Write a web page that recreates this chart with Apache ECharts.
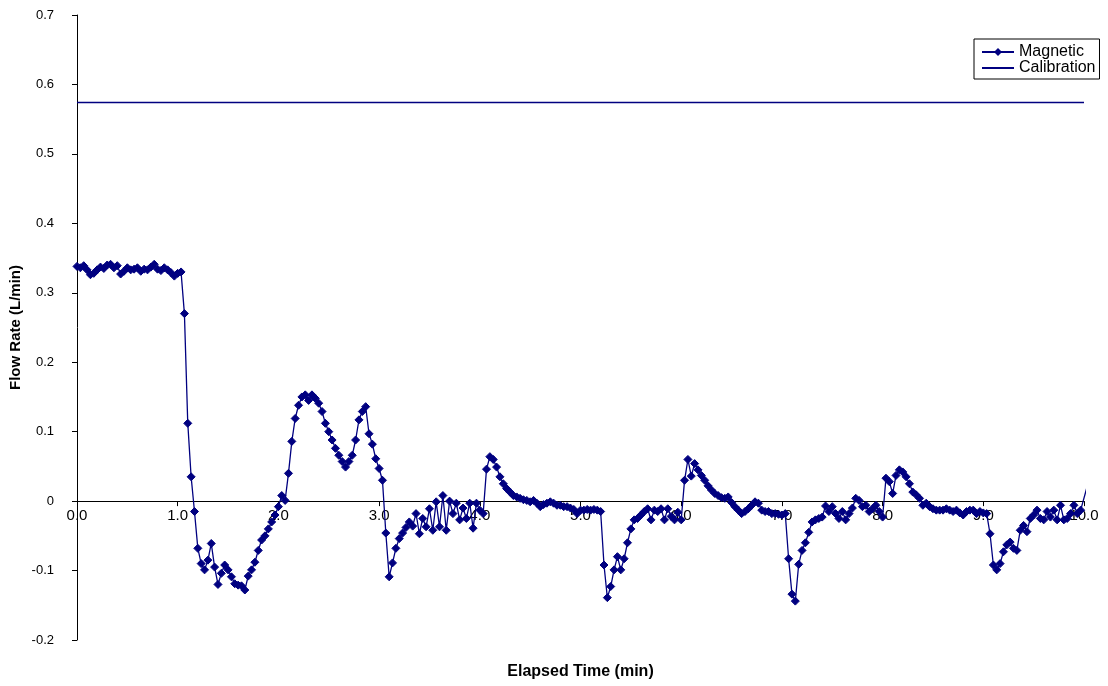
<!DOCTYPE html>
<html>
<head>
<meta charset="utf-8">
<script src="https://cdn.jsdelivr.net/npm/echarts@6/dist/echarts.min.js"></script>
<style>
html,body{margin:0;padding:0;background:#ffffff;}
#chart{width:1108px;height:686px;}
</style>
</head>
<body>
<div id="chart"></div>
<script>
// Elapsed time of each Magnetic reading, in seconds
const timeSeconds = [
0,2,4,6,8,10,12,14,16,18,20,22,24,26,28,30,32,34,36,38,40,42,44,46,48,50,52,54,56,58,
60,62,64,66,68,70,72,74,76,78,80,82,84,86,88,90,92,94,96,98,100,102,104,106,108,110,112,114,116,118,
120,122,124,126,128,130,132,134,136,138,140,142,144,146,148,150,152,154,156,158,160,162,164,166,168,170,172,174,176,178,
180,182,184,186,188,190,192,194,196,198,200,202,204,206,208,210,212,214,216,218,220,222,224,226,228,230,232,234,236,238,
240,242,244,246,248,250,252,254,256,258,260,262,264,266,268,270,272,274,276,278,280,282,284,286,288,290,292,294,296,298,
300,302,304,306,308,310,312,314,316,318,320,322,324,326,328,330,332,334,336,338,340,342,344,346,348,350,352,354,356,358,
360,362,364,366,368,370,372,374,376,378,380,382,384,386,388,390,392,394,396,398,400,402,404,406,408,410,412,414,416,418,
420,422,424,426,428,430,432,434,436,438,440,442,444,446,448,450,452,454,456,458,460,462,464,466,468,470,472,474,476,478,
480,482,484,486,488,490,492,494,496,498,500,502,504,506,508,510,512,514,516,518,520,522,524,526,528,530,532,534,536,538,
540,542,544,546,548,550,552,554,556,558,560,562,564,566,568,570,572,574,576,578,580,582,584,586,588,590,592,594,596,598,
602
];

// Magnetic flow rate readings (L/min)
const magneticFlow = [
0.338,0.336,0.339,0.333,0.326,0.328,0.333,0.337,0.335,0.340,0.341,0.336,0.339,0.327,0.331,0.336,0.333,0.334,0.336,0.331,0.334,0.333,0.337,0.341,0.334,0.332,0.336,0.333,0.329,0.324,
0.328,0.330,0.270,0.112,0.035,-0.015,-0.068,-0.090,-0.099,-0.085,-0.061,-0.095,-0.120,-0.104,-0.092,-0.099,-0.109,-0.119,-0.121,-0.122,-0.128,-0.108,-0.099,-0.088,-0.071,-0.056,-0.050,-0.040,-0.030,-0.020,
-0.008,0.008,0.001,0.040,0.086,0.119,0.138,0.150,0.153,0.145,0.153,0.148,0.141,0.129,0.112,0.100,0.088,0.076,0.066,0.057,0.049,0.057,0.066,0.088,0.117,0.129,0.136,0.097,0.082,0.061,
0.047,0.030,-0.046,-0.109,-0.089,-0.068,-0.054,-0.046,-0.038,-0.030,-0.036,-0.018,-0.047,-0.025,-0.037,-0.011,-0.042,-0.001,-0.037,0.008,-0.042,0.000,-0.018,-0.003,-0.027,-0.010,-0.025,-0.003,-0.039,-0.003,
-0.013,-0.018,0.046,0.064,0.060,0.049,0.035,0.025,0.018,0.013,0.008,0.006,0.004,0.002,0.001,-0.001,0.001,-0.003,-0.008,-0.005,-0.003,-0.001,-0.003,-0.006,-0.006,-0.008,-0.008,-0.010,-0.012,-0.018,
-0.013,-0.013,-0.012,-0.013,-0.012,-0.013,-0.015,-0.092,-0.139,-0.123,-0.099,-0.080,-0.099,-0.083,-0.060,-0.040,-0.027,-0.025,-0.020,-0.015,-0.011,-0.027,-0.013,-0.015,-0.011,-0.027,-0.011,-0.022,-0.027,-0.016,
-0.027,0.030,0.060,0.036,0.054,0.045,0.037,0.030,0.022,0.016,0.011,0.008,0.005,0.004,0.006,-0.002,-0.008,-0.013,-0.018,-0.015,-0.011,-0.006,-0.001,-0.003,-0.013,-0.015,-0.015,-0.018,-0.018,-0.019,
-0.020,-0.018,-0.083,-0.134,-0.144,-0.091,-0.071,-0.060,-0.045,-0.030,-0.027,-0.025,-0.023,-0.007,-0.015,-0.008,-0.018,-0.025,-0.015,-0.027,-0.018,-0.010,0.004,0.001,-0.008,-0.006,-0.015,-0.011,-0.006,-0.015,
-0.023,0.033,0.028,0.011,0.037,0.045,0.042,0.035,0.025,0.013,0.009,0.004,-0.006,-0.003,-0.008,-0.011,-0.013,-0.013,-0.013,-0.011,-0.013,-0.015,-0.013,-0.017,-0.020,-0.015,-0.013,-0.013,-0.018,-0.015,
-0.017,-0.018,-0.047,-0.092,-0.099,-0.090,-0.073,-0.063,-0.059,-0.068,-0.071,-0.042,-0.035,-0.044,-0.025,-0.020,-0.013,-0.025,-0.027,-0.015,-0.023,-0.013,-0.027,-0.006,-0.027,-0.025,-0.018,-0.006,-0.018,-0.013,
0.022
];

// Calibration reference line (L/min)
const calibrationTimeSeconds = [0, 600];
const calibrationFlow = [0.574, 0.574];

const seriesNames = ['Magnetic', 'Calibration'];
const xAxisTitle = 'Elapsed Time (min)';
const yAxisTitle = 'Flow Rate (L/min)';
const yRange = [-0.2, 0.7];
const xRange = [0, 10];

const FONT = '"Liberation Sans", Arial, sans-serif';
const NAVY = '#000080';

const magneticData = timeSeconds.map((s, i) => [s / 60, magneticFlow[i]]);
const calibrationData = calibrationTimeSeconds.map((s, i) => [s / 60, calibrationFlow[i]]);

const chart = echarts.init(document.getElementById('chart'), null, {renderer: 'canvas'});
chart.setOption({
  animation: false,
  backgroundColor: '#ffffff',
  textStyle: {fontFamily: FONT, color: '#000'},
  grid: {left: 77, right: 24, top: 15, bottom: 46, containLabel: false, outerBoundsMode: 'none'},
  legend: {
    orient: 'vertical',
    left: 974,
    top: 39,
    padding: [5, 4, 3, 7],
    itemGap: 0,
    itemWidth: 32,
    itemHeight: 10,
    backgroundColor: '#ffffff',
    borderColor: '#000',
    borderWidth: 1,
    borderRadius: 0,
    textStyle: {fontFamily: FONT, fontSize: 16, color: '#000'},
    data: seriesNames
  },
  xAxis: {
    type: 'value',
    min: xRange[0],
    max: xRange[1],
    interval: 1,
    position: 'bottom',
    offset: 0,
    name: xAxisTitle,
    nameLocation: 'middle',
    nameGap: 152,
    nameMoveOverlap: false,
    nameTextStyle: {fontFamily: FONT, fontSize: 16, fontWeight: 'bold', color: '#000'},
    axisLine: {show: true, onZero: false, lineStyle: {color: '#000', width: 1}},
    axisTick: {show: true, inside: false, length: 5, lineStyle: {color: '#000', width: 1}},
    axisLabel: {fontFamily: FONT, fontSize: 15, color: '#000', margin: 7, formatter: v => v.toFixed(1)},
    splitLine: {show: false}
  },
  yAxis: {
    type: 'value',
    min: yRange[0],
    max: yRange[1],
    interval: 0.1,
    name: yAxisTitle,
    nameLocation: 'middle',
    nameGap: 54,
    nameRotate: 90,
    nameMoveOverlap: false,
    nameTextStyle: {fontFamily: FONT, fontSize: 15, fontWeight: 'bold', color: '#000'},
    axisLine: {show: true, onZero: false, lineStyle: {color: '#000', width: 1}},
    axisTick: {show: true, inside: false, length: 5, lineStyle: {color: '#000', width: 1}},
    axisLabel: {fontFamily: FONT, fontSize: 13, color: '#000', margin: 23,
      formatter: v => (Math.abs(v) < 1e-9 ? '0' : v.toFixed(1))},
    splitLine: {show: false}
  },
  series: [
    {
      name: seriesNames[0],
      type: 'line',
      data: magneticData,
      symbol: 'diamond',
      symbolSize: 8,
      showSymbol: true,
      showAllSymbol: true,
      clip: true,
      lineStyle: {color: NAVY, width: 1.3},
      itemStyle: {color: NAVY, borderColor: NAVY},
      emphasis: {disabled: true},
      z: 3
    },
    {
      name: seriesNames[1],
      type: 'line',
      data: calibrationData,
      symbol: 'none',
      showSymbol: false,
      lineStyle: {color: NAVY, width: 1.3},
      itemStyle: {color: NAVY, opacity: 0},
      emphasis: {disabled: true},
      z: 2
    }
  ]
});

// Move the time axis (line, ticks, labels, title) up to the zero flow level,
// using the library's own y scale.
const zeroY = chart.convertToPixel({yAxisIndex: 0}, 0);
const bottomY = chart.convertToPixel({yAxisIndex: 0}, yRange[0]);
const nameGapFromZero = 162;
chart.setOption({
  xAxis: {
    offset: -(bottomY - zeroY),
    nameGap: nameGapFromZero
  }
});
</script>
</body>
</html>
